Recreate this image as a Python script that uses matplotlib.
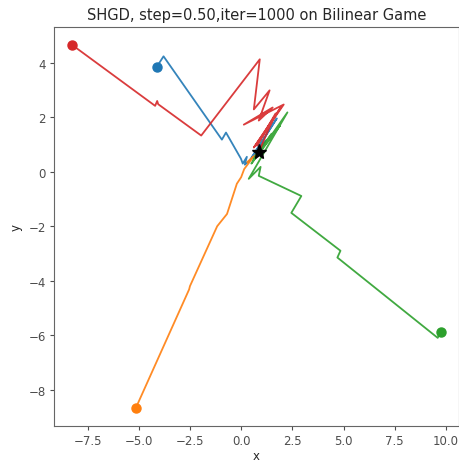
import matplotlib
matplotlib.use("Agg")
import matplotlib.pyplot as plt
import numpy as np

# trajectories (x, y)
blue_x = [-4.13, -3.79, -0.94, -0.74, -0.01, 0.08, 0.28, 0.18, 0.40, 1.74, 0.55, 1.20, 0.85]
blue_y = [3.84, 4.24, 1.18, 1.44, 0.48, 0.30, 0.55, 0.26, 0.40, 1.96, 0.55, 1.15, 0.71]

orange_x = [-5.14, -2.54, -2.50, -1.17, -0.69, -0.21, 0.00, 0.15, 0.60, 0.30, 0.85]
orange_y = [-8.67, -4.32, -4.20, -2.00, -1.55, -0.44, -0.20, 0.10, 0.55, 0.35, 0.71]

green_x = [9.74, 9.60, 4.70, 4.85, 2.45, 2.94, 0.86, 0.95, 0.37, 2.26, 0.50, 1.90, 0.60, 1.50, 0.70, 1.10, 0.85]
green_y = [-5.87, -6.10, -3.15, -2.90, -1.51, -0.89, -0.15, 0.18, -0.26, 2.18, 0.30, 1.70, 0.45, 1.40, 0.60, 1.00, 0.71]

red_x = [-8.24, -4.20, -4.10, -4.05, -1.95, 0.91, 0.62, 1.39, 0.86, 1.54, 0.13, 2.08, 0.62, 1.93, 0.77, 1.68, 0.85]
red_y = [4.65, 2.42, 2.60, 2.48, 1.33, 4.13, 2.29, 2.99, 1.88, 2.36, 1.73, 2.47, 0.89, 2.36, 0.96, 2.14, 0.71]

star_x, star_y = 0.85, 0.71

paths = [(blue_x, blue_y, 'tab:blue'), (orange_x, orange_y, 'tab:orange'),
         (green_x, green_y, 'tab:green'), (red_x, red_y, 'tab:red')]

fig = plt.figure(figsize=(4.6, 4.64), dpi=100)
ax = fig.add_axes([54/460, 1-427/464, 405/460, 399/464])

for xs, ys, c in paths:
    ax.plot(xs, ys, color=c, lw=1.3, alpha=0.9)
    ax.plot(xs[0], ys[0], 'o', color=c, ms=6.5)
ax.plot(star_x, star_y, '*', color='black', ms=11, zorder=5)

ax.set_title('SHGD, step=0.50,iter=1000 on Bilinear Game', fontsize=10.5, color='.15')
ax.set_xlabel('x', fontsize=8.5, color='.15', labelpad=1)
ax.set_ylabel('y', fontsize=8.5, color='.15', labelpad=4)
ax.tick_params(labelsize=8.5, colors='.3', length=3, pad=3)
for s in ax.spines.values():
    s.set_color('.4')

fig.savefig('out.png', dpi=100)
